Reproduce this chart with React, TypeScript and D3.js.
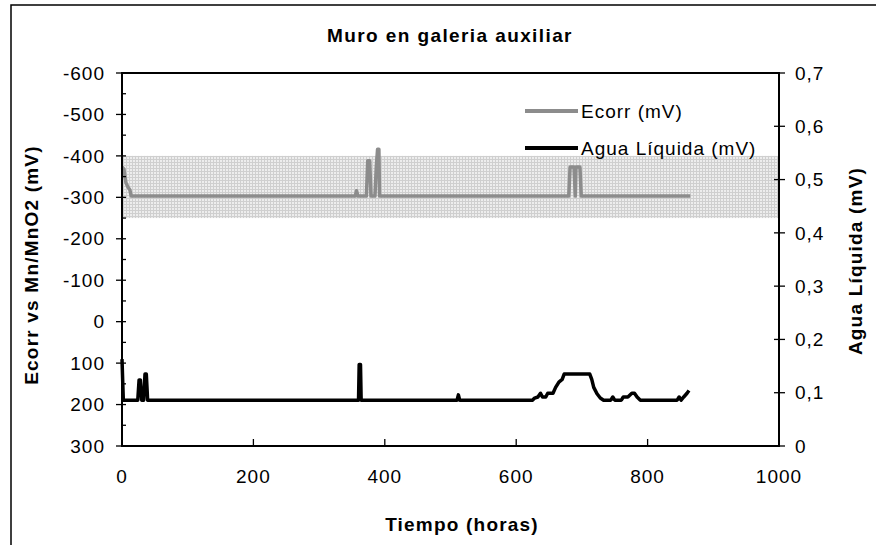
import React, { useEffect, useRef } from 'react';
import * as d3 from 'd3';

// Ecorr (mV) vs Mn/MnO2, left axis
const ecorrHours = [0, 3, 6, 9, 12, 14, 355, 357, 359, 372, 374, 377, 379, 385, 387, 389, 391, 392, 680, 682, 688, 690, 691, 697, 699, 865];
const ecorrValues = [-373, -368, -335, -325, -318, -303, -303, -316, -303, -303, -388, -388, -303, -303, -372, -416, -416, -303, -303, -373, -373, -303, -373, -373, -303, -303];

// Agua Líquida (mV), right axis
const aguaHours = [0, 2, 24, 26, 28, 30, 33, 35, 37, 39, 360, 361, 363, 364, 510, 512, 514, 625, 628, 633, 637, 640, 645, 648, 656, 660, 665, 670, 673, 712, 715, 718, 723, 728, 733, 744, 747, 750, 760, 763, 770, 776, 780, 784, 789, 845, 848, 851, 855, 860, 863];
const aguaValues = [0.163, 0.086, 0.086, 0.124, 0.124, 0.086, 0.086, 0.135, 0.135, 0.086, 0.086, 0.153, 0.153, 0.086, 0.086, 0.096, 0.086, 0.086, 0.09, 0.092, 0.099, 0.092, 0.092, 0.099, 0.099, 0.11, 0.12, 0.125, 0.135, 0.135, 0.125, 0.11, 0.098, 0.09, 0.086, 0.086, 0.092, 0.086, 0.086, 0.092, 0.092, 0.099, 0.099, 0.092, 0.086, 0.086, 0.092, 0.086, 0.092, 0.099, 0.104];

const xTicks = [0, 200, 400, 600, 800, 1000];
const leftTicks = [-600, -500, -400, -300, -200, -100, 0, 100, 200, 300];
const rightTicks = [0, 0.1, 0.2, 0.3, 0.4, 0.5, 0.6, 0.7];
const band = [-400, -250];

const seriesNames = ['Ecorr (mV)', 'Agua Líquida (mV)'];
const seriesColors = ['#8c8c8c', '#000000'];

const FONT = '"Liberation Sans", Arial, sans-serif';

function App() {
  const svgRef = useRef(null);

  useEffect(() => {
    const width = 876;
    const height = 545;
    const margin = { top: 73, right: 97, bottom: 99, left: 122 };

    const svg = d3.select(svgRef.current).attr('width', width).attr('height', height);
    svg.selectAll('*').remove();

    const x = d3.scaleLinear().domain([0, 1000]).range([margin.left, width - margin.right]);
    const yL = d3.scaleLinear().domain([-600, 300]).range([margin.top, height - margin.bottom]);
    const yR = d3.scaleLinear().domain([0, 0.7]).range([height - margin.bottom, margin.top]);

    // outer frame
    svg.append('rect')
      .attr('x', 11).attr('y', 5)
      .attr('width', width).attr('height', height)
      .attr('fill', 'white').attr('stroke', '#000').attr('stroke-width', 1.5);

    // grid pattern for the band
    const pat = svg.append('defs').append('pattern')
      .attr('id', 'gridpat').attr('patternUnits', 'userSpaceOnUse')
      .attr('width', 3).attr('height', 3);
    pat.append('rect').attr('width', 3).attr('height', 3).attr('fill', '#ededed');
    pat.append('path').attr('d', 'M0,0.5H3M0.5,0V3').attr('stroke', '#cfcfcf').attr('stroke-width', 1);

    svg.append('rect')
      .attr('x', x(0)).attr('y', yL(band[0]))
      .attr('width', x(1000) - x(0)).attr('height', yL(band[1]) - yL(band[0]))
      .attr('fill', 'url(#gridpat)');

    // series
    const ecorr = ecorrHours.map((h, i) => [h, ecorrValues[i]]);
    const agua = aguaHours.map((h, i) => [h, aguaValues[i]]);

    svg.append('path')
      .datum(ecorr)
      .attr('d', d3.line().x((d) => x(d[0])).y((d) => yL(d[1])))
      .attr('fill', 'none').attr('stroke', seriesColors[0]).attr('stroke-width', 3.5)
      .attr('stroke-linejoin', 'round');

    svg.append('path')
      .datum(agua)
      .attr('d', d3.line().x((d) => x(d[0])).y((d) => yR(d[1])))
      .attr('fill', 'none').attr('stroke', seriesColors[1]).attr('stroke-width', 3.5)
      .attr('stroke-linejoin', 'round');

    // axes lines
    const axisG = svg.append('g').attr('stroke', '#000').attr('stroke-width', 2).attr('fill', 'none');
    axisG.append('path')
      .attr('d', `M${x(0)},${yL(-600)}H${x(1000)}V${yL(300)}H${x(0)}Z`);

    // left ticks (major crossing, minor inside)
    leftTicks.forEach((t) => {
      axisG.append('line').attr('x1', x(0) - 6).attr('x2', x(0) + 4).attr('y1', yL(t)).attr('y2', yL(t)).attr('stroke-width', 1.3);
    });
    d3.range(-550, 300, 100).forEach((t) => {
      axisG.append('line').attr('x1', x(0)).attr('x2', x(0) + 4).attr('y1', yL(t)).attr('y2', yL(t)).attr('stroke-width', 1.3);
    });
    rightTicks.forEach((t) => {
      axisG.append('line').attr('x1', x(1000) - 5).attr('x2', x(1000) + 6).attr('y1', yR(t)).attr('y2', yR(t)).attr('stroke-width', 1.3);
    });
    xTicks.forEach((t) => {
      axisG.append('line').attr('x1', x(t)).attr('x2', x(t)).attr('y1', yL(300)).attr('y2', yL(300) - 7).attr('stroke-width', 1.3);
    });

    const txt = svg.append('g').attr('font-family', FONT).attr('fill', '#000');

    leftTicks.forEach((t) => {
      txt.append('text').attr('x', 105).attr('y', yL(t)).attr('dy', '0.35em')
        .attr('text-anchor', 'end').attr('font-size', 19).attr('letter-spacing', 1)
        .text(String(t));
    });
    rightTicks.forEach((t) => {
      txt.append('text').attr('x', 795).attr('y', yR(t)).attr('dy', '0.35em')
        .attr('font-size', 19).attr('letter-spacing', 1)
        .text(t === 0 ? '0' : d3.format('.1f')(t).replace('.', ','));
    });
    xTicks.forEach((t) => {
      txt.append('text').attr('x', x(t)).attr('y', 483)
        .attr('text-anchor', 'middle').attr('font-size', 19).attr('letter-spacing', 1)
        .text(String(t));
    });

    // title and axis titles
    txt.append('text').attr('x', 450).attr('y', 42).attr('text-anchor', 'middle')
      .attr('font-size', 19).attr('font-weight', 'bold').attr('letter-spacing', 1.4)
      .text('Muro en galeria auxiliar');
    txt.append('text').attr('x', 462).attr('y', 531).attr('text-anchor', 'middle')
      .attr('font-size', 19).attr('font-weight', 'bold').attr('letter-spacing', 1.2)
      .text('Tiempo (horas)');
    txt.append('text').attr('transform', 'translate(38,265) rotate(-90)').attr('text-anchor', 'middle')
      .attr('font-size', 19).attr('font-weight', 'bold').attr('letter-spacing', 1.2)
      .text('Ecorr vs Mn/MnO2 (mV)');
    txt.append('text').attr('transform', 'translate(862,261) rotate(-90)').attr('text-anchor', 'middle')
      .attr('font-size', 19).attr('font-weight', 'bold').attr('letter-spacing', 1.2)
      .text('Agua Líquida (mV)');

    // legend
    const legendY = [111, 148];
    seriesNames.forEach((name, i) => {
      svg.append('line').attr('x1', 525).attr('x2', 578).attr('y1', legendY[i]).attr('y2', legendY[i])
        .attr('stroke', seriesColors[i]).attr('stroke-width', 4);
      txt.append('text').attr('x', 581).attr('y', legendY[i]).attr('dy', '0.35em')
        .attr('font-size', 19).attr('letter-spacing', 1)
        .text(name);
    });
  }, []);

  return (
    <div style={{ position: 'absolute', left: 0, top: 0 }}>
      <svg ref={svgRef} style={{ display: 'block' }}></svg>
    </div>
  );
}

export default App;
